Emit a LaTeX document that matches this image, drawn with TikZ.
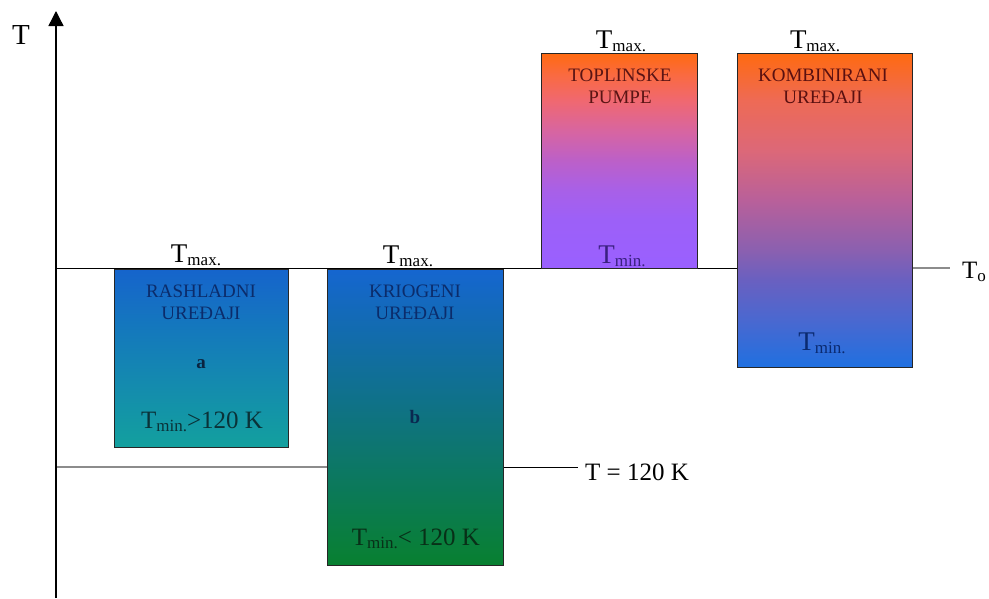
\documentclass[tikz,border=0pt]{standalone}
\usepackage{fontspec}
\setmainfont{Liberation Serif}
\usetikzlibrary{arrows.meta}
% T with a lowered, smaller index
\newcommand\Tidx[1]{T\raisebox{-3.5pt}{\fontsize{17}{17}\selectfont #1}}
% vertical fills of the two warm boxes; a node is fitted to the 25bp..75bp band
\pgfdeclareverticalshading{pumpfill}{100bp}{%
  rgb(0bp)=(.604,.376,1);
  rgb(25bp)=(.604,.376,1);
  rgb(36bp)=(.612,.376,.973);
  rgb(43bp)=(.659,.376,.910);
  rgb(50bp)=(.737,.376,.784);
  rgb(57bp)=(.847,.396,.627);
  rgb(64bp)=(.941,.408,.439);
  rgb(70bp)=(.980,.416,.251);
  rgb(75bp)=(1,.416,.063);
  rgb(100bp)=(1,.416,.063)}
\pgfdeclareverticalshading{combfill}{100bp}{%
  rgb(0bp)=(.125,.439,.878);
  rgb(25bp)=(.125,.439,.878);
  rgb(32.5bp)=(.290,.408,.816);
  rgb(39bp)=(.416,.376,.753);
  rgb(43.5bp)=(.541,.376,.690);
  rgb(51.5bp)=(.722,.376,.604);
  rgb(59.5bp)=(.863,.408,.471);
  rgb(67.5bp)=(.933,.416,.333);
  rgb(75bp)=(1,.416,.063);
  rgb(100bp)=(1,.416,.063)}
\begin{document}
\begin{tikzpicture}[x=1pt,y=-1pt,
  devbox/.style={draw=black!85, line width=0.9pt, inner sep=0pt, outer sep=0pt},
  boxcap/.style={font=\fontsize{19}{22}\selectfont, align=center, anchor=base, inner sep=0pt},
  tlab/.style={font=\fontsize{27}{29}\selectfont, anchor=base, inner sep=0pt},
  letterlbl/.style={font=\fontsize{19}{21}\selectfont\bfseries, anchor=base, inner sep=0pt},
  lvlline/.style={line width=0.9pt},
  greyline/.style={line width=1.2pt, draw=black!45}]
\useasboundingbox (0,0) rectangle (989,598);

% reference levels
\coordinate (axbot) at (56,598);
\coordinate (axtop) at (56,11);
\coordinate (t0l) at (56,268);
\coordinate (t0m) at (912,268);
\coordinate (t0r) at (950,268);
\coordinate (k120l) at (56,467);
\coordinate (k120m) at (328,467);
\coordinate (k120a) at (503,467);
\coordinate (k120b) at (578,467);

\draw[lvlline] (t0l) -- (t0m);
\draw[greyline] (t0m) -- (t0r);
\draw[greyline] (k120l) -- (k120m);
\draw[lvlline] (k120a) -- (k120b);

% temperature axis
\draw[line width=1.4pt, -{Triangle[width=15pt,length=15pt]}] (axbot) -- (axtop);
\node[tlab, font=\fontsize{29}{31}\selectfont] (axlab) at (21,44) {T};

% boxes
\node[devbox, minimum width=173.5pt, minimum height=178pt,
      top color={rgb,255:red,21;green,100;blue,204},
      bottom color={rgb,255:red,19;green,160;blue,158}] (a) at (201.25,358) {};
\node[devbox, minimum width=175.5pt, minimum height=296pt,
      top color={rgb,255:red,21;green,102;blue,208},
      bottom color={rgb,255:red,8;green,128;blue,48}] (b) at (415.25,417) {};
\node[devbox, minimum width=155.5pt, minimum height=215pt,
      shading=pumpfill] (c) at (619.25,160.5) {};
\node[devbox, minimum width=175pt, minimum height=314pt,
      shading=combfill] (d) at (824.5,210) {};

% box a
\node[tlab] (amax) at (196,262) {\Tidx{max.}};
\node[boxcap, text={rgb,255:red,11;green,44;blue,107}] (acap) at (201,319) {RASHLADNI\\UREĐAJI};
\node[letterlbl, text={rgb,255:red,10;green,36;blue,64}] (alet) at (201,368) {a};
\node[tlab, font=\fontsize{25}{27}\selectfont, text={rgb,255:red,10;green,50;blue,56}] (amin) at (202,428) {\Tidx{min.}>120 K};

% box b
\node[tlab] (bmax) at (408,263) {\Tidx{max.}};
\node[boxcap, text={rgb,255:red,11;green,44;blue,107}] (bcap) at (415,319) {KRIOGENI\\UREĐAJI};
\node[letterlbl, text={rgb,255:red,10;green,40;blue,80}] (blet) at (415,423) {b};
\node[tlab, font=\fontsize{25}{27}\selectfont, text={rgb,255:red,8;green,48;blue,24}] (bmin) at (416,545) {\Tidx{min.}< 120 K};

% box c
\node[tlab] (cmax) at (621,48) {\Tidx{max.}};
\node[boxcap, text={rgb,255:red,90;green,20;blue,20}] (ccap) at (620,103) {TOPLINSKE\\PUMPE};
\node[tlab, text={rgb,255:red,58;green,32;blue,128}] (cmin) at (622,263) {\Tidx{min.}};

% box d
\node[tlab] (dmax) at (815,48) {\Tidx{max.}};
\node[boxcap, text={rgb,255:red,90;green,16;blue,16}] (dcap) at (823,103) {KOMBINIRANI\\UREĐAJI};
\node[tlab, text={rgb,255:red,10;green,42;blue,112}] (dmin) at (822,350) {\Tidx{min.}};

% level labels
\node[tlab, font=\fontsize{25}{27}\selectfont, anchor=base west] (t0lab) at (962,278) {\Tidx{o}};
\node[tlab, font=\fontsize{25}{27}\selectfont, anchor=base west] (k120lab) at (585,480) {T = 120 K};
\end{tikzpicture}
\end{document}
